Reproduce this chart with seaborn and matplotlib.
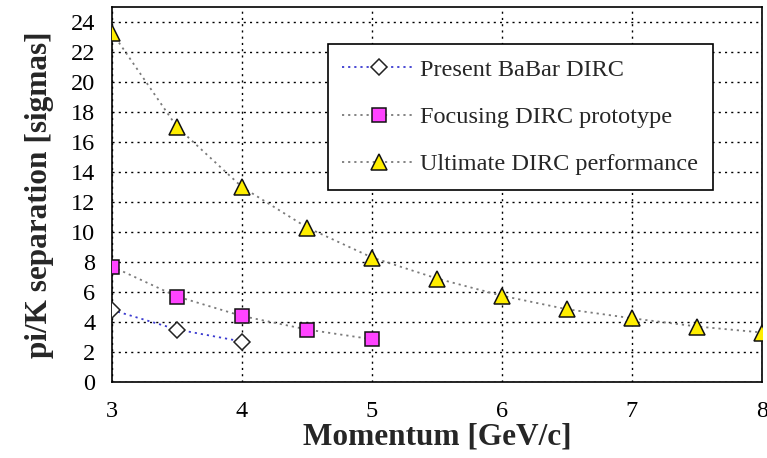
import matplotlib
matplotlib.use("Agg")
import matplotlib.pyplot as plt
import seaborn as sns
import pandas as pd

# Momentum points [GeV/c] and pi/K separation [sigmas] for each DIRC configuration
babar_p = [3.0, 3.5, 4.0]
babar_sep = [4.8, 3.5, 2.7]

focus_p = [3.0, 3.5, 4.0, 4.5, 5.0]
focus_sep = [7.7, 5.7, 4.4, 3.5, 2.85]

ultimate_p = [3.0, 3.5, 4.0, 4.5, 5.0, 5.5, 6.0, 6.5, 7.0, 7.5, 8.0]
ultimate_sep = [23.3, 17.0, 13.0, 10.3, 8.3, 6.9, 5.75, 4.85, 4.25, 3.7, 3.3]

series_names = ["Present BaBar DIRC", "Focusing DIRC prototype", "Ultimate DIRC performance"]

x_ticks = [3, 4, 5, 6, 7, 8]
y_ticks = list(range(0, 25, 2))

sns.set_style("white")
plt.rcParams["font.family"] = ["Liberation Serif", "DejaVu Serif"]

fig = plt.figure(figsize=(7.67, 4.58), dpi=100)
ax = fig.add_axes([112 / 767, 1 - 382 / 458, 650 / 767, 375 / 458])

frames = {
    series_names[0]: pd.DataFrame({"p": babar_p, "sep": babar_sep}),
    series_names[1]: pd.DataFrame({"p": focus_p, "sep": focus_sep}),
    series_names[2]: pd.DataFrame({"p": ultimate_p, "sep": ultimate_sep}),
}
styles = {
    series_names[0]: dict(color="#3a3ad0", marker="D", markersize=8.5,
                          markerfacecolor="white", markeredgecolor="#222222"),
    series_names[1]: dict(color="#7a7a7a", marker="s", markersize=9.5,
                          markerfacecolor="#ff44ff", markeredgecolor="#111111"),
    series_names[2]: dict(color="#7a7a7a", marker="^", markersize=12,
                          markerfacecolor="#ffee00", markeredgecolor="#111111"),
}

# draw the triangles first so the lower curves sit on top
for name in [series_names[2], series_names[1], series_names[0]]:
    st = styles[name]
    sns.lineplot(data=frames[name], x="p", y="sep", ax=ax, label=name,
                 color=st["color"], linestyle=(0, (1.2, 2.2)), linewidth=1.3,
                 marker=st["marker"], markersize=st["markersize"],
                 markerfacecolor=st["markerfacecolor"],
                 markeredgecolor=st["markeredgecolor"], markeredgewidth=1.1,
                 zorder=3)

ax.set_xlim(3, 8)
ax.set_ylim(0, 25)
ax.set_xticks(x_ticks)
ax.set_yticks(y_ticks)
ax.set_xticklabels([str(v) for v in x_ticks])
ax.set_yticklabels([str(v) for v in y_ticks])

ax.grid(True, color="black", linestyle=(0, (1.5, 3)), linewidth=1.0, zorder=1)
for s in ax.spines.values():
    s.set_visible(True)
    s.set_color("black")
    s.set_linewidth(1.2)

ax.tick_params(axis="both", direction="out", length=5, width=1.0, colors="black",
               labelsize=17.5, pad=7)
ax.tick_params(axis="x", pad=9)

ax.set_xlabel("Momentum [GeV/c]", fontsize=22.5, fontweight="bold", labelpad=0)
ax.set_ylabel("pi/K separation [sigmas]", fontsize=22.5, fontweight="bold", labelpad=12)

handles, labels = ax.get_legend_handles_labels()
order = [labels.index(n) for n in series_names]
leg = ax.legend([handles[i] for i in order], [labels[i] for i in order],
                loc="upper left", bbox_to_anchor=(0.332, 0.901),
                fontsize=17.5, frameon=True, fancybox=False, edgecolor="black",
                framealpha=1.0, labelspacing=1.04, handlelength=3.0,
                borderpad=0.6, handletextpad=0.2, borderaxespad=0)
leg.get_frame().set_linewidth(1.2)
leg.set_zorder(5)

fig.savefig("out.png", dpi=100, facecolor="white")
